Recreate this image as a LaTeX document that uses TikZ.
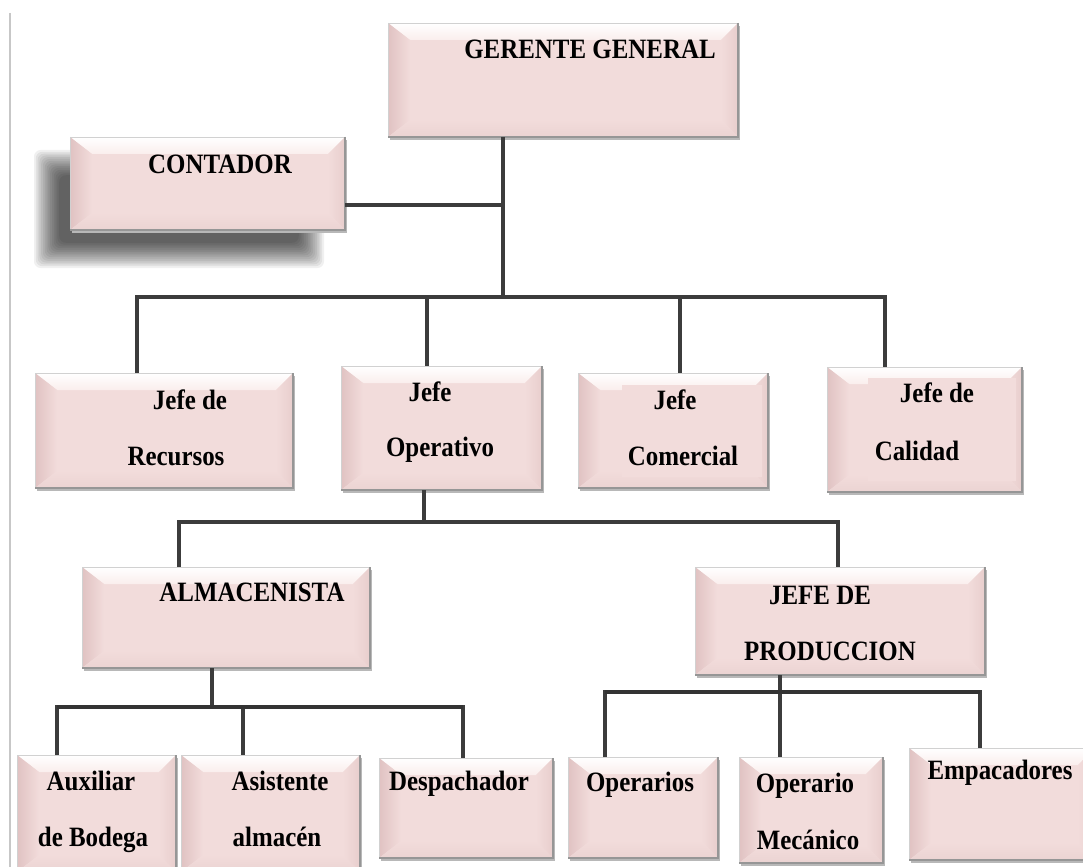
\documentclass[tikz,border=0pt]{standalone}
\usepackage{fontspec}
\newfontfamily\orgfont[FakeStretch=0.89]{Liberation Serif}
\usetikzlibrary{calc,fit}
\definecolor{face}{RGB}{242,220,219}
\definecolor{facetop}{RGB}{250,238,237}
\definecolor{faceleft}{RGB}{224,194,194}
\definecolor{faceright}{RGB}{232,206,205}
\definecolor{facebot}{RGB}{235,211,210}
\definecolor{connc}{RGB}{60,60,60}
\definecolor{edgec}{RGB}{150,150,150}
\tikzset{
  boxface/.style={fill=face, draw=none, inner sep=0pt, outer sep=0pt},
  boxshadow/.style={fill=black!28},
  edgeline/.style={draw=edgec, line width=0.8pt},
  edgelt/.style={draw=black!18, line width=0.6pt},
  conn/.style={draw=connc, line width=2.7pt, line join=miter},
  busline/.style={draw=black!80, line width=3.4pt},
  lbl/.style={font=\orgfont\bfseries\fontsize{21}{25}\selectfont, inner sep=0pt,
              text height=13.9pt, text depth=0pt, anchor=center},
}
\newcommand\bevbox[5]{%
  \coordinate (#1-a) at (#2,#3);
  \coordinate (#1-b) at (#4,#5);
  \fill[boxshadow] ($(#1-a)+(1.5,3)$) rectangle ($(#1-b)+(1.5,3)$);
  \node[boxface, fit=(#1-a)(#1-b)] (#1) {};
  \shade[top color=white, bottom color=facetop]
    (#1.north west) -- (#1.north east) -- ($(#1.north east)+(-17,17)$) -- ($(#1.north west)+(22,17)$) -- cycle;
  \shade[left color=faceleft, right color=face]
    (#1.north west) -- ($(#1.north west)+(22,17)$) -- ($(#1.south west)+(22,-17)$) -- (#1.south west) -- cycle;
  \shade[left color=face, right color=faceright]
    (#1.north east) -- (#1.south east) -- ($(#1.south east)+(-17,-17)$) -- ($(#1.north east)+(-17,17)$) -- cycle;
  \shade[top color=face, bottom color=facebot]
    (#1.south west) -- ($(#1.south west)+(22,-17)$) -- ($(#1.south east)+(-17,-17)$) -- (#1.south east) -- cycle;
  \draw[edgelt] (#1.south west) -- (#1.north west) -- (#1.north east);
  \draw[edgeline] (#1.north east) -- (#1.south east) -- (#1.south west);
}
\begin{document}
\begin{tikzpicture}[x=0.75pt,y=-0.75pt]
\useasboundingbox (0,0) rectangle (1083,867);
\clip (0,0) rectangle (1083,867);
\fill[white] (0,0) rectangle (1083,867);
% left page rule
\draw[draw=black!22, line width=2.2pt] (10,13) -- (10,870);
% blurred shadow of CONTADOR
\foreach \i in {0,...,14}{
  \fill[black, opacity=0.06, rounded corners=5pt] (34+\i*1.8,150+\i*1.8) rectangle (324-\i*1.8,268-\i*1.8);
}
% boxes
\bevbox{gg}{388}{23}{738}{137}
\bevbox{cont}{70}{137}{345}{230}
\bevbox{rec}{35}{373}{293}{488}
\bevbox{ope}{341}{366}{542}{490}
\bevbox{com}{578}{373}{768}{488}
\fill[face] (622,385) rectangle (762,477);
\bevbox{cal}{827}{367}{1022}{492}
\fill[face] (868,378) rectangle (1016,481);
\bevbox{alm}{82}{567}{370}{668}
\bevbox{jdp}{695}{567}{985}{675}
\bevbox{aux}{17}{755}{176}{872}
\bevbox{asi}{181}{755}{360}{872}
\bevbox{des}{379}{758}{553}{858}
\bevbox{opr}{568}{757}{718}{858}
\bevbox{mec}{739}{757}{883}{863}
\bevbox{emp}{909}{748}{1095}{860}
% connectors: top level
\coordinate (k0) at (503,297);
\coordinate (kc) at (503,205);
\coordinate (k1) at (137,297);
\coordinate (k2) at (427,297);
\coordinate (k3) at (680,297);
\coordinate (k4) at (885,297);
\draw[conn] (gg.south -| k0) -- (k0);
\draw[conn] (cont.east |- kc) -- (kc);
\draw[conn] (rec.north -| k1) -- (k1) -- (k4) -- (k4 |- cal.north);
\draw[conn] (k2) -- (k2 |- ope.north);
\draw[conn] (k3) -- (k3 |- com.north);
% middle level
\coordinate (m0) at (424,522);
\coordinate (m1) at (179,522);
\coordinate (m2) at (838,522);
\draw[conn] (ope.south -| m0) -- (m0);
\draw[conn] (alm.north -| m1) -- (m1) -- (m2) -- (m2 |- jdp.north);
% bottom left
\coordinate (p0) at (212,707);
\coordinate (p1) at (57,707);
\coordinate (p2) at (243,707);
\coordinate (p3) at (463,707);
\draw[conn] (alm.south -| p0) -- (p0);
\draw[conn] (aux.north -| p1) -- (p1) -- (p3) -- (p3 |- des.north);
\draw[conn] (p2) -- (p2 |- asi.north);
\draw[busline] (p1) -- (p3);
% bottom right
\coordinate (q0) at (780,692);
\coordinate (q1) at (605,692);
\coordinate (q3) at (980,692);
\draw[conn] (jdp.south -| q0) -- (q0) -- (q0 |- mec.north);
\draw[conn] (opr.north -| q1) -- (q1) -- (q3) -- (q3 |- emp.north);
\draw[busline] (q1) -- (q3);
% labels
\node[lbl] (t-gg) at (590,49) {GERENTE GENERAL};
\node[lbl] (t-cont) at (220,164) {CONTADOR};
\node[lbl] (t-rec1) at (190,400) {Jefe de};
\node[lbl] (t-rec2) at (176,456) {Recursos};
\node[lbl] (t-ope1) at (430,392) {Jefe};
\node[lbl] (t-ope2) at (440,447) {Operativo};
\node[lbl] (t-com1) at (675,400) {Jefe};
\node[lbl] (t-com2) at (683,456) {Comercial};
\node[lbl] (t-cal1) at (937,393) {Jefe de};
\node[lbl] (t-cal2) at (917,451) {Calidad};
\node[lbl] (t-alm) at (252,592) {ALMACENISTA};
\node[lbl] (t-jdp1) at (820,595) {JEFE DE};
\node[lbl] (t-jdp2) at (830,651) {PRODUCCION};
\node[lbl] (t-aux1) at (91,781) {Auxiliar};
\node[lbl] (t-aux2) at (93,837) {de Bodega};
\node[lbl] (t-asi1) at (280,781) {Asistente};
\node[lbl] (t-asi2) at (277,837) {almacén};
\node[lbl] (t-des) at (459,781) {Despachador};
\node[lbl] (t-opr) at (640,782) {Operarios};
\node[lbl] (t-mec1) at (805,783) {Operario};
\node[lbl] (t-mec2) at (808,840) {Mecánico};
\node[lbl] (t-emp) at (1000,770) {Empacadores};
\end{tikzpicture}
\end{document}
